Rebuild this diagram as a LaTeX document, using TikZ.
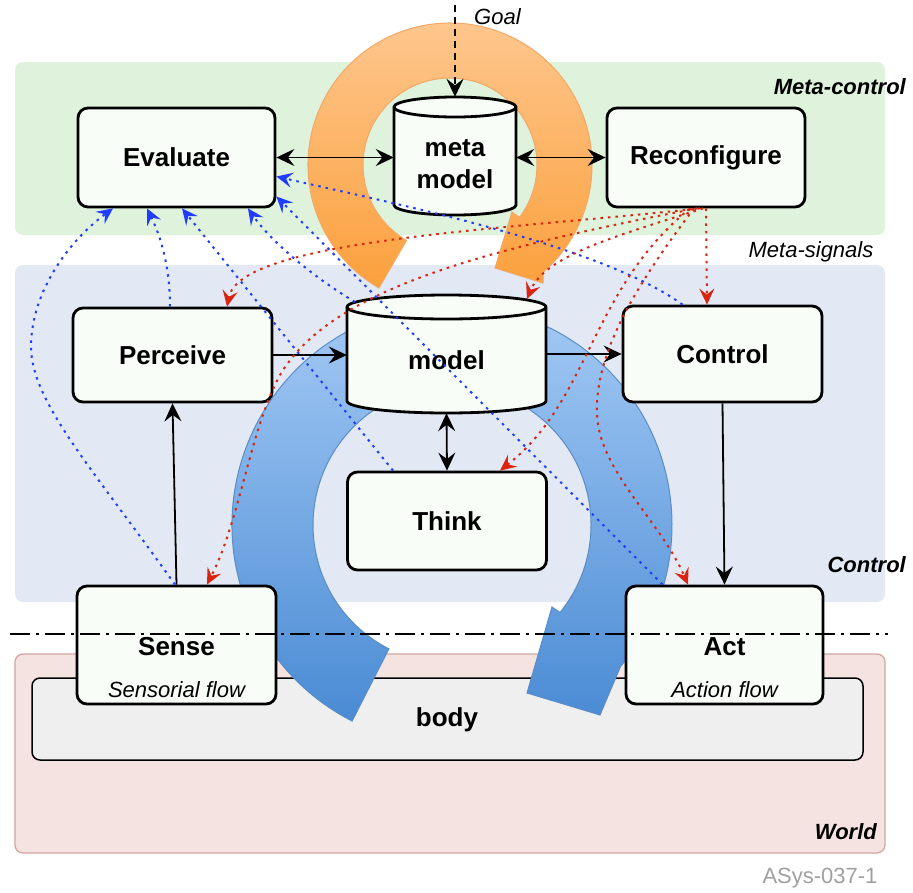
\documentclass[tikz,border=0pt]{standalone}
\usepackage{fontspec}
\setmainfont{Liberation Sans}
\usetikzlibrary{arrows.meta,calc}
\definecolor{greenband}{HTML}{DFF2DC}
\definecolor{blueband}{HTML}{E3E9F4}
\definecolor{worldfill}{HTML}{F5E3E1}
\definecolor{worlddraw}{HTML}{D2A7A2}
\definecolor{bodyfill}{HTML}{EFEFEF}
\definecolor{boxfill}{HTML}{F8FDF8}
\definecolor{sigblue}{HTML}{1F3CFF}
\definecolor{sigred}{HTML}{DA2410}
\definecolor{orangetop}{HTML}{FEC993}
\definecolor{orangebot}{HTML}{FBA03C}
\definecolor{orangeline}{HTML}{F3A867}
\definecolor{bluetop}{HTML}{AACEF7}
\definecolor{bluebot}{HTML}{4A8BD4}
\definecolor{blueline}{HTML}{5A8DC6}
\definecolor{idgray}{HTML}{A0A0A0}
\begin{document}
\begin{tikzpicture}[x=1pt,y=-1pt,
  box/.style={draw=black, line width=2.8pt, rounded corners=10pt, fill=boxfill, inner sep=0pt},
  boxtext/.style={font=\fontsize{26}{32}\selectfont\bfseries, align=center, inner sep=0pt},
  flowtext/.style={font=\fontsize{22}{26}\selectfont\itshape, inner sep=0pt},
  zonetext/.style={font=\fontsize{22}{26}\selectfont\bfseries\itshape, inner sep=0pt},
  cylline/.style={draw=black, line width=2.8pt, fill=boxfill},
  flow/.style={line width=1.8pt, -{Stealth[length=18pt,width=17pt,inset=6.5pt]}},
  bothflow/.style={line width=1.8pt, {Stealth[length=18pt,width=17pt,inset=6.5pt]}-{Stealth[length=18pt,width=17pt,inset=6.5pt]}},
  bsig/.style={sigblue, line width=2pt, dash pattern=on 2.5pt off 5pt, -{Stealth[length=16pt,width=15pt,inset=6pt]}},
  rsig/.style={sigred, line width=2pt, dash pattern=on 2.5pt off 5pt, -{Stealth[length=16pt,width=15pt,inset=6pt]}}
]
\useasboundingbox (0,0) rectangle (913,892);
\fill[white] (0,0) rectangle (913,892);

% zones
\fill[greenband, rounded corners=8pt] (15,62) rectangle (885,235);
\fill[blueband, rounded corners=8pt] (15,265) rectangle (885,602);
\draw[worlddraw, fill=worldfill, line width=1.3pt, rounded corners=8pt] (15,654) rectangle (885,853);
\draw[black, fill=bodyfill, line width=1.5pt, rounded corners=8pt] (32,678) rectangle (863,760);

% orange meta loop
\path[draw=orangeline, line width=1pt, top color=orangetop, bottom color=orangebot]
  ($(450,165)+(-240:142)$) arc[start angle=-240, end angle=49, radius=142]
  -- (543,283) -- (495,268) -- (512,212)
  -- ($(450,165)+(37:87)$) arc[start angle=37, end angle=-240, radius=87] -- cycle;

% blue control loop
\path[draw=blueline, line width=1pt, top color=bluetop, bottom color=bluebot]
  ($(452,525)+(-243:220)$) arc[start angle=-243, end angle=40, radius=220]
  -- (600,715) -- (527,693) -- (552,607)
  -- ($(452,525)+(39:139)$) arc[start angle=39, end angle=-243, radius=139] -- cycle;

% boxes
\node[box, minimum width=197pt, minimum height=99pt] (eval) at (176.5,157.5) {};
\node[boxtext] (evaltxt) at (eval.center) {Evaluate};
\node[box, minimum width=198pt, minimum height=99pt] (reconf) at (706,157.5) {};
\node[boxtext] (reconftxt) at (reconf.center) {Reconfigure};
\node[box, minimum width=199pt, minimum height=94pt] (perc) at (172.5,355) {};
\node[boxtext] (perctxt) at (perc.center) {Perceive};
\node[box, minimum width=199pt, minimum height=96pt] (ctrl) at (722.5,354) {};
\node[boxtext] (ctrltxt) at (ctrl.center) {Control};
\node[box, minimum width=199pt, minimum height=98pt] (think) at (447,521) {};
\node[boxtext] (thinktxt) at (think.center) {Think};
\node[box, minimum width=199pt, minimum height=118pt] (sense) at (176.5,645) {};
\node[boxtext] (sensetxt) at (176.5,647) {Sense};
\node[flowtext] (sensefl) at (176.5,690) {Sensorial flow};
\node[box, minimum width=197pt, minimum height=118pt] (act) at (724.5,645) {};
\node[boxtext] (acttxt) at (724.5,647) {Act};
\node[flowtext] (actfl) at (724.5,690) {Action flow};
\node[boxtext] (body) at (447,720) {body};

% meta model cylinder
\path[cylline] (394,107) -- (394,205) arc[start angle=180, end angle=0, x radius=61, y radius=10]
  -- (516,107) arc[start angle=0, end angle=-180, x radius=61, y radius=10] -- cycle;
\draw[black, line width=2.8pt] (394,107) arc[start angle=180, end angle=0, x radius=61, y radius=10];
\node[minimum width=122pt, minimum height=118pt, inner sep=0pt] (meta) at (455,156) {};
\node[boxtext] (metatxt) at (455,164) {meta\\model};

% model cylinder
\path[cylline] (347,307) -- (347,401) arc[start angle=180, end angle=0, x radius=99.5, y radius=12]
  -- (546,307) arc[start angle=0, end angle=-180, x radius=99.5, y radius=12] -- cycle;
\draw[black, line width=2.8pt] (347,307) arc[start angle=180, end angle=0, x radius=99.5, y radius=12];
\node[minimum width=199pt, minimum height=118pt, inner sep=0pt] (model) at (446.5,354) {};
\node[boxtext] (modeltxt) at (446.5,360) {model};

% goal
\coordinate (goalstart) at (455,5);
\node[flowtext, anchor=west] (goal) at (474,17) {Goal};
\draw[line width=1.8pt, dash pattern=on 7pt off 5pt, -{Stealth[length=18pt,width=17pt,inset=6.5pt]}] (goalstart) -- (meta.north);

% black flows
\draw[bothflow] (eval.east) -- (eval.east -| meta.west);
\draw[bothflow] (meta.east |- reconf.west) -- (reconf.west);
\draw[flow] (perc.east) -- (perc.east -| model.west);
\draw[flow] (model.east |- ctrl.west) -- (ctrl.west);
\draw[bothflow] (model.south) -- (think.north);
\draw[flow] (sense.north) -- (perc.south);
\draw[flow] (ctrl.south) -- (act.north);

% blue meta-signals to Evaluate
\draw[bsig] ($(sense.north)+(-1.5,0)$) .. controls (90,465) and (30,400) .. (31,345)
  .. controls (32,290) and (70,240) .. ($(eval.south)+(-63.5,0)$);
\draw[bsig] ($(perc.north)+(-2.5,0)$) .. controls (170,265) and (160,235) .. ($(eval.south)+(-29.5,0)$);
\draw[bsig] ($(think.north)+(-54,0)$) -- ($(eval.south)+(5.5,0)$);
\coordinate (modelsig) at (355,302);
\draw[bsig] (modelsig) .. controls (310,275) and (270,240) .. ($(eval.south)+(71.5,0)$);
\draw[bsig] ($(act.north)+(-62,0)$) -- ($(eval.east)+(0,39)$);
\draw[bsig] ($(ctrl.north)+(-40,0)$) .. controls (600,245) and (400,205) .. ($(eval.east)+(0,19)$);

% red meta-signals from Reconfigure
\coordinate (modeltop) at (527,299);
\draw[rsig] (reconf.south) -- ($(ctrl.north)+(-15.5,0)$);
\draw[rsig] ($(reconf.south)+(-6,0)$) .. controls (500,230) and (240,240) .. ($(perc.north)+(54.5,0)$);
\draw[rsig] ($(reconf.south)+(-3,0)$) .. controls (620,235) and (545,255) .. (modeltop);
\draw[rsig] ($(reconf.south)+(-9,0)$) .. controls (480,250) and (330,290) .. (280,375)
  .. controls (250,430) and (240,520) .. ($(sense.north)+(30.5,0)$);
\draw[rsig] ($(reconf.south)+(-16,0)$) .. controls (590,290) and (590,400) .. ($(think.north)+(53,0)$);
\draw[rsig] ($(reconf.south)+(-12,0)$) .. controls (640,280) and (595,350) .. (597,413)
  .. controls (598,470) and (660,520) .. ($(act.north)+(-36.5,0)$);

% body/world boundary
\draw[black, line width=1.5pt, dash pattern=on 20pt off 6pt on 3pt off 6pt] (10,634) -- (888,634);

% zone labels
\node[zonetext, anchor=east] (lmeta) at (906,87) {Meta-control};
\node[flowtext] (lsignals) at (811,252) {Meta-signals};
\node[zonetext, anchor=east] (lcontrol) at (906,565) {Control};
\node[zonetext, anchor=east] (lworld) at (877,832) {World};
\node[font=\fontsize{22}{26}\selectfont, text=idgray, inner sep=0pt] (figid) at (820,878) {ASys-037-1};
\end{tikzpicture}
\end{document}
